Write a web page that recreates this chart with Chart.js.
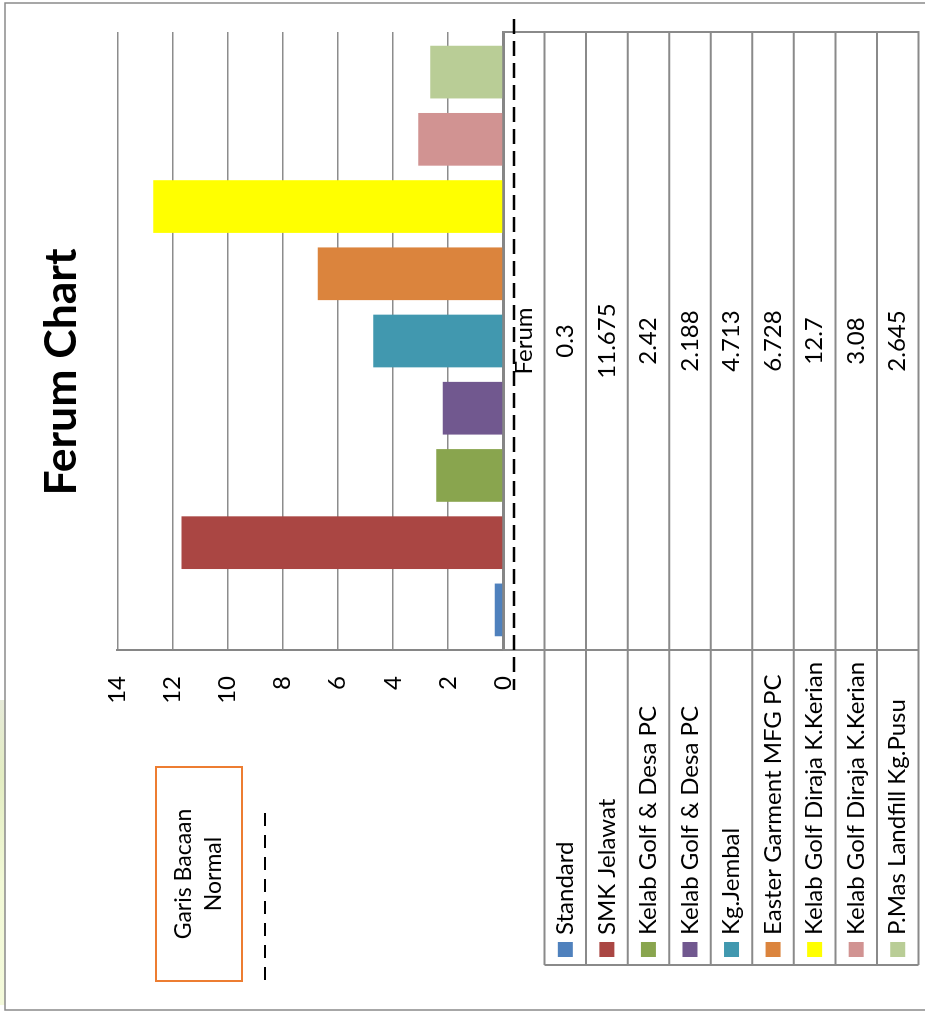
<!DOCTYPE html>
<html><head><meta charset="utf-8">
<script src="https://cdn.jsdelivr.net/npm/chart.js@4"></script>
<style>
html,body{margin:0;padding:0;background:#fff;width:925px;height:1012px;overflow:hidden}
#edge{position:absolute;left:0;top:700px;width:5px;height:305px;background:linear-gradient(#e6ead8,#e3edc2 25%,#f2f9d6 60%,#f4fadb)}
#rot{position:absolute;left:0;top:0;width:1012px;height:925px;transform-origin:0 0;transform:translate(0px,1012px) rotate(-90deg)}
</style></head><body>
<div id="edge"></div>
<div id="rot"><canvas id="c" width="1012" height="925" style="width:1012px;height:925px"></canvas></div>
<script>
const chartTitle = 'Ferum Chart';
const categories = ['Ferum'];
const seriesNames = ['Standard','SMK Jelawat','Kelab Golf & Desa PC','Kelab Golf & Desa PC','Kg.Jembal','Easter Garment MFG PC','Kelab Golf Diraja K.Kerian','Kelab Golf Diraja K.Kerian','P.Mas Landfill Kg.Pusu'];
const ferumValues = [0.3, 11.675, 2.42, 2.188, 4.713, 6.728, 12.7, 3.08, 2.645];
const seriesColors = ['#4F81BD','#AA4643','#89A54E','#71588F','#4198AF','#DB843D','#FFFF00','#D19392','#B9CD96'];
const noteLines = ['Garis Bacaan','Normal'];
const yMin = 0, yMax = 14, yStep = 2;

const FONT = 'Lato, "Open Sans", sans-serif';
const LINE = '#8a8a8a';

const tablePlugin = {
  id: 'tbl',
  afterDraw(chart) {
    const ctx = chart.ctx, a = chart.chartArea, ys = chart.scales.y;
    const top = a.bottom, rowH = 41.55, n = seriesNames.length;
    const bottom = top + rowH * (n + 1);
    const legL = 47;
    ctx.save();
    ctx.strokeStyle = LINE; ctx.lineWidth = 2;
    ctx.beginPath();
    for (let i = 1; i <= n + 1; i++) { const y = top + rowH * i; ctx.moveTo(legL, y); ctx.lineTo(a.right + 1, y); }
    ctx.moveTo(a.right, top); ctx.lineTo(a.right, bottom);
    ctx.moveTo(a.left, top); ctx.lineTo(a.left, bottom);
    ctx.moveTo(legL, top + rowH); ctx.lineTo(legL, bottom);
    ctx.stroke();

    const cx = (a.left + a.right) / 2;
    ctx.font = '24px ' + FONT; ctx.textBaseline = 'middle';
    ctx.fillStyle = '#000'; ctx.textAlign = 'center';
    ctx.fillText(categories[0], cx, top + rowH / 2);
    for (let i = 0; i < n; i++) {
      const cy = top + rowH * (i + 1.5);
      ctx.fillStyle = '#000'; ctx.textAlign = 'center';
      ctx.fillText(String(ferumValues[i]), cx, cy);
      ctx.fillStyle = seriesColors[i];
      ctx.fillRect(legL + 8, cy - 7.5, 15, 15);
      ctx.fillStyle = '#000'; ctx.textAlign = 'left';
      ctx.fillText(seriesNames[i], legL + 30, cy);
    }

    // note box
    ctx.strokeStyle = '#ED7D31'; ctx.lineWidth = 2;
    ctx.strokeRect(31, 156, 214, 86);
    ctx.fillStyle = '#000'; ctx.textAlign = 'center'; ctx.font = '23px ' + FONT;
    ctx.fillText(noteLines[0], 138, 184);
    ctx.fillText(noteLines[1], 138, 214);

    // note dashed line
    ctx.strokeStyle = '#000'; ctx.lineWidth = 2; ctx.setLineDash([13, 9]);
    ctx.beginPath(); ctx.moveTo(199, 265); ctx.lineTo(32, 265); ctx.stroke();

    // plot dashed line
    const y0 = ys.getPixelForValue(0) + 11;
    ctx.lineWidth = 2.5; ctx.setLineDash([15, 7]);
    ctx.beginPath(); ctx.moveTo(a.right + 13, y0); ctx.lineTo(a.left - 40, y0); ctx.stroke();
    ctx.setLineDash([]);

    // chart border
    ctx.strokeStyle = '#8a8a8a'; ctx.lineWidth = 1.5;
    ctx.strokeRect(2, 5, 1007, 960);
    ctx.restore();
  }
};

new Chart(document.getElementById('c'), {
  type: 'bar',
  data: {
    labels: categories,
    datasets: seriesNames.map((name, i) => ({
      label: name, data: [ferumValues[i]], backgroundColor: seriesColors[i],
      borderWidth: 0, barPercentage: 0.784, categoryPercentage: 0.979
    }))
  },
  options: {
    responsive: false, animation: false, devicePixelRatio: 1,
    layout: { padding: { left: 300, right: 32, top: 0, bottom: 422 } },
    plugins: {
      legend: { display: false }, tooltip: { enabled: false },
      title: { display: true, text: chartTitle, color: '#000',
        font: { family: FONT, size: 44.5, weight: 'bold' }, padding: { top: 35, bottom: 29 } }
    },
    scales: {
      x: { type: 'category', offset: true, grid: { display: false, drawTicks: false },
        ticks: { display: false }, border: { display: true, color: '#868686', width: 3 },
        afterFit(s) { s.height = 0; } },
      y: { min: yMin, max: yMax,
        ticks: { stepSize: yStep, color: '#000', font: { family: FONT, size: 24 }, padding: 26 },
        grid: { color: '#8c8c8c', lineWidth: 1.5, drawTicks: false },
        border: { display: true, color: '#868686', width: 2 },
        afterFit(s) { s.width = 62; } }
    }
  },
  plugins: [tablePlugin]
});
</script>
</body></html>
